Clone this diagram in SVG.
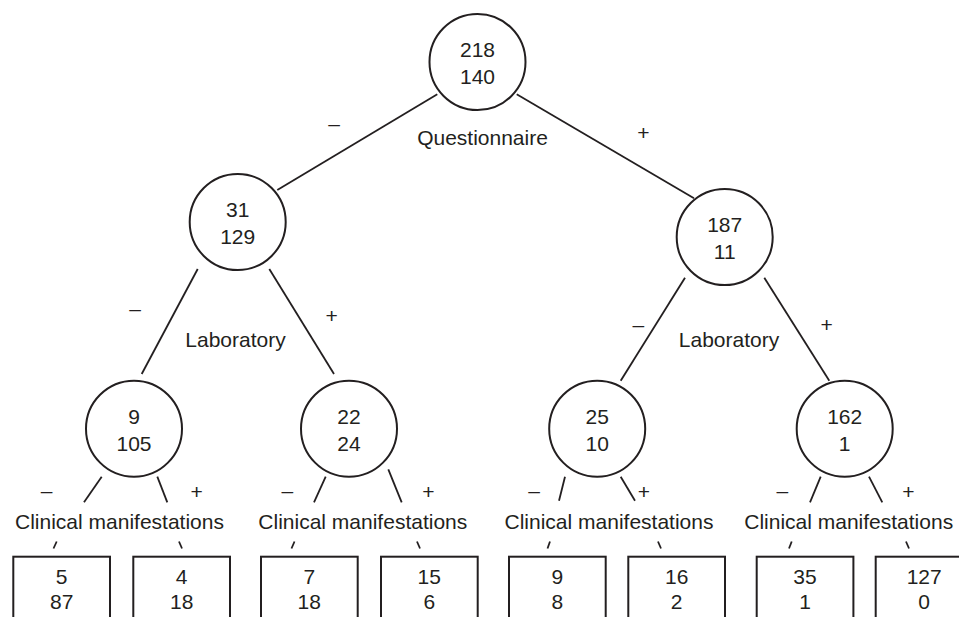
<svg xmlns="http://www.w3.org/2000/svg" width="959" height="617" viewBox="0 0 959 617">
<style>
text{font-family:"Liberation Sans",Arial,sans-serif;font-size:21px;fill:#231f20;text-anchor:middle}
.n{fill:#fff;stroke:#231f20;stroke-width:2}
.c line{stroke:#231f20;stroke-width:1.8;stroke-linecap:butt}
</style>
<rect width="959" height="617" fill="#fff"/>
<g class="c" id="connectors">
<line x1="437.3" y1="94.3" x2="277.3" y2="190"/>
<line x1="516.7" y1="94.3" x2="694" y2="198.3"/>
<line x1="197.7" y1="269" x2="141.7" y2="374"/>
<line x1="269.3" y1="269" x2="334" y2="374"/>
<line x1="685" y1="277.7" x2="620.7" y2="380.7"/>
<line x1="764.3" y1="277.7" x2="829.3" y2="380.7"/>
<line x1="101.7" y1="476.7" x2="84" y2="502.3"/>
<line x1="157.3" y1="476.7" x2="167.3" y2="502.3"/>
<line x1="325.7" y1="476.7" x2="314" y2="502.3"/>
<line x1="388.3" y1="469.3" x2="401.7" y2="502.3"/>
<line x1="565" y1="476.7" x2="559" y2="500.7"/>
<line x1="620.7" y1="476.7" x2="635" y2="500.7"/>
<line x1="820.7" y1="476.7" x2="810" y2="502.3"/>
<line x1="869" y1="476.7" x2="882.3" y2="502.3"/>
<line x1="56.7" y1="541.5" x2="53.5" y2="548.5"/>
<line x1="179" y1="541.5" x2="182" y2="548.5"/>
<line x1="294.5" y1="541.5" x2="291.5" y2="548.5"/>
<line x1="417" y1="541.5" x2="420" y2="548.5"/>
<line x1="550" y1="541.5" x2="547.5" y2="548.5"/>
<line x1="658" y1="541.5" x2="661" y2="548.5"/>
<line x1="791.7" y1="541.5" x2="789" y2="548.5"/>
<line x1="906" y1="541.5" x2="909" y2="548.5"/>
</g>
<g id="labels">
<text x="334" y="131">–</text>
<text x="643.3" y="139.6">+</text>
<text x="482.5" y="145">Questionnaire</text>
<text x="135" y="316">–</text>
<text x="331.7" y="323">+</text>
<text x="235.5" y="346.7">Laboratory</text>
<text x="638.3" y="332">–</text>
<text x="826.7" y="332">+</text>
<text x="729" y="346.7">Laboratory</text>
<text x="46.7" y="497.5">–</text>
<text x="196.7" y="499">+</text>
<text x="287.3" y="497.5">–</text>
<text x="428.3" y="499">+</text>
<text x="534" y="497.5">–</text>
<text x="644" y="499">+</text>
<text x="782.3" y="497.5">–</text>
<text x="908.3" y="499">+</text>
<text x="119.5" y="529">Clinical manifestations</text>
<text x="362.8" y="529">Clinical manifestations</text>
<text x="609" y="529">Clinical manifestations</text>
<text x="848.7" y="529">Clinical manifestations</text>
</g>
<g id="n-root"><circle class="n" cx="477.5" cy="62" r="48"/><text x="477.5" y="57.3">218</text><text x="477.5" y="84.3">140</text></g>
<g id="n-q-neg"><circle class="n" cx="237.7" cy="222" r="48"/><text x="237.7" y="217.3">31</text><text x="237.7" y="244.3">129</text></g>
<g id="n-q-pos"><circle class="n" cx="724.7" cy="237" r="48"/><text x="724.7" y="232.3">187</text><text x="724.7" y="259.3">11</text></g>
<g id="n-ll"><circle class="n" cx="134" cy="428.7" r="48"/><text x="134" y="424">9</text><text x="134" y="451">105</text></g>
<g id="n-lr"><circle class="n" cx="349" cy="428.7" r="48"/><text x="349" y="424">22</text><text x="349" y="451">24</text></g>
<g id="n-rl"><circle class="n" cx="597.2" cy="428.7" r="48"/><text x="597.2" y="424">25</text><text x="597.2" y="451">10</text></g>
<g id="n-rr"><circle class="n" cx="844.7" cy="428.7" r="48"/><text x="844.7" y="424">162</text><text x="844.7" y="451">1</text></g>
<g id="b1"><rect class="n" x="13.3" y="556.7" width="96.7" height="80"/><text x="61.7" y="584">5</text><text x="61.7" y="609">87</text></g>
<g id="b2"><rect class="n" x="133.3" y="556.7" width="96.7" height="80"/><text x="181.7" y="584">4</text><text x="181.7" y="609">18</text></g>
<g id="b3"><rect class="n" x="261" y="556.7" width="96.7" height="80"/><text x="309.3" y="584">7</text><text x="309.3" y="609">18</text></g>
<g id="b4"><rect class="n" x="381" y="556.7" width="96.7" height="80"/><text x="429.3" y="584">15</text><text x="429.3" y="609">6</text></g>
<g id="b5"><rect class="n" x="509" y="556.7" width="96.7" height="80"/><text x="557.3" y="584">9</text><text x="557.3" y="609">8</text></g>
<g id="b6"><rect class="n" x="628.3" y="556.7" width="96.7" height="80"/><text x="676.7" y="584">16</text><text x="676.7" y="609">2</text></g>
<g id="b7"><rect class="n" x="756.7" y="556.7" width="96.7" height="80"/><text x="805" y="584">35</text><text x="805" y="609">1</text></g>
<g id="b8"><rect class="n" x="875.7" y="556.7" width="96.7" height="80"/><text x="924.2" y="584">127</text><text x="924.2" y="609">0</text></g>
</svg>
